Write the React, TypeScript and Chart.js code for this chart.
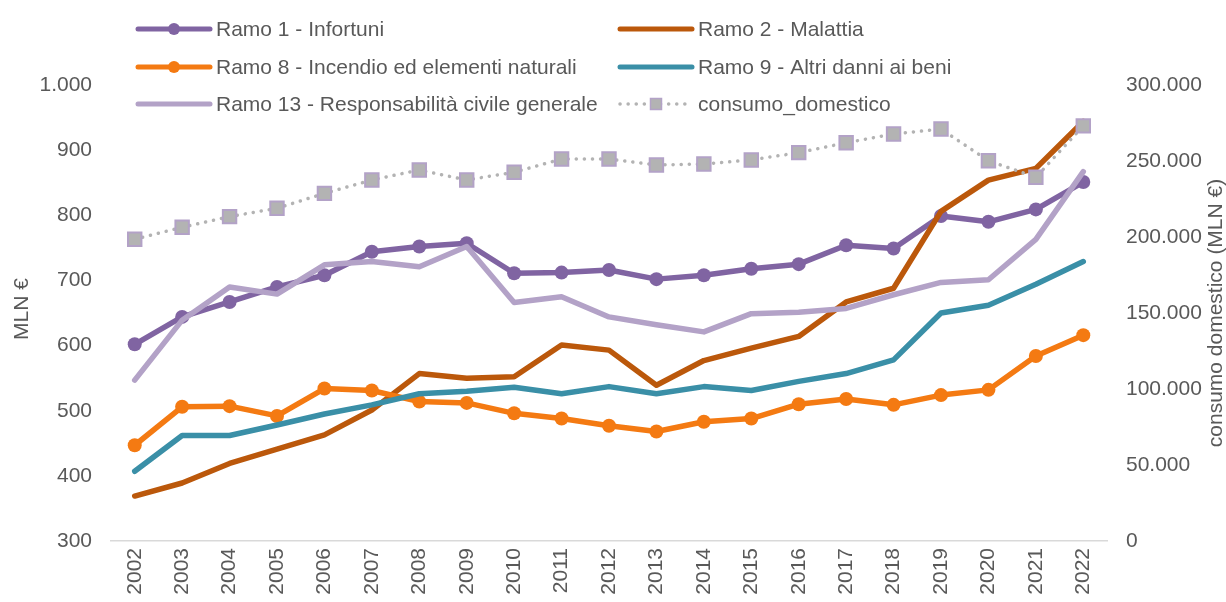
import React, { useEffect, useRef } from "react";
import { Chart, registerables } from "chart.js";

Chart.register(...registerables);

const years = ["2002","2003","2004","2005","2006","2007","2008","2009","2010","2011","2012","2013","2014","2015","2016","2017","2018","2019","2020","2021","2022"];
const ramo1 = [602, 644, 667, 690, 708, 744, 752, 757, 711, 712, 716, 702, 708, 718, 725, 754, 749, 799, 790, 809, 851];
const ramo2 = [369, 389, 419, 441, 463, 501, 557, 550, 552, 601, 593, 539, 577, 596, 614, 667, 688, 806, 854, 872, 944];
const ramo8 = [447, 506, 507, 492, 534, 531, 514, 512, 496, 488, 477, 468, 483, 488, 510, 518, 509, 524, 532, 584, 616];
const ramo9 = [407, 462, 462, 478, 495, 509, 526, 530, 536, 526, 537, 526, 537, 531, 545, 557, 578, 650, 662, 694, 729];
const ramo13 = [547, 639, 690, 679, 724, 729, 721, 752, 666, 675, 644, 632, 621, 649, 651, 657, 678, 697, 701, 763, 867];
const consumo = [198500, 206400, 213400, 218900, 228700, 237500, 244100, 237500, 242600, 251300, 251300, 247400, 248000, 250700, 255500, 262000, 267800, 271000, 250200, 239300, 273100];

const names = [
  "Ramo 1 - Infortuni",
  "Ramo 2 - Malattia",
  "Ramo 8 - Incendio ed elementi naturali",
  "Ramo 9 - Altri danni ai beni",
  "Ramo 13 - Responsabilità civile generale",
  "consumo_domestico",
];
const leftTitle = "MLN €";
const rightTitle = "consumo domestico (MLN €)";

const C1 = "#8064a2";
const C2 = "#bb580b";
const C8 = "#f47a12";
const C9 = "#3a8fa7";
const C13 = "#b3a2c7";
const CG = "#b3b3b3";
const TXT = "#595959";
const FONT = "'Liberation Sans', Arial, sans-serif";
const FS = 21;

const fmt = (v: number) => {
  const s = Math.round(v).toString();
  return s.replace(/\B(?=(\d{3})+(?!\d))/g, ".");
};

const overlay = {
  id: "overlay",
  afterDraw(chart: any) {
    const ctx = chart.ctx;
    ctx.save();
    ctx.font = `${FS}px ${FONT}`;
    ctx.fillStyle = TXT;
    ctx.textBaseline = "middle";
    // titles
    ctx.save();
    ctx.translate(22, 309);
    ctx.rotate(-Math.PI / 2);
    ctx.textAlign = "center";
    ctx.fillText(leftTitle, 0, 0);
    ctx.restore();
    ctx.save();
    ctx.translate(1216, 313);
    ctx.rotate(-Math.PI / 2);
    ctx.textAlign = "center";
    ctx.fillText(rightTitle, 0, 0);
    ctx.restore();

    // legend
    const items = [
      { name: names[0], color: C1, x: 138, y: 29, kind: "circle" },
      { name: names[2], color: C8, x: 138, y: 67, kind: "circle" },
      { name: names[4], color: C13, x: 138, y: 104, kind: "line" },
      { name: names[1], color: C2, x: 620, y: 29, kind: "line" },
      { name: names[3], color: C9, x: 620, y: 67, kind: "line" },
      { name: names[5], color: CG, x: 620, y: 104, kind: "dotted" },
    ];
    for (const it of items) {
      const x0 = it.x, x1 = it.x + 72, cx = (x0 + x1) / 2;
      ctx.save();
      ctx.lineCap = "round";
      if (it.kind === "dotted") {
        ctx.strokeStyle = CG;
        ctx.lineWidth = 3.5;
        ctx.setLineDash([0.1, 8]);
      } else {
        ctx.strokeStyle = it.color;
        ctx.lineWidth = 5;
      }
      ctx.beginPath();
      ctx.moveTo(x0, it.y);
      ctx.lineTo(x1, it.y);
      ctx.stroke();
      ctx.setLineDash([]);
      if (it.kind === "circle") {
        ctx.fillStyle = it.color;
        ctx.beginPath();
        ctx.arc(cx, it.y, 6, 0, Math.PI * 2);
        ctx.fill();
      } else if (it.kind === "dotted") {
        ctx.fillStyle = CG;
        ctx.strokeStyle = C13;
        ctx.lineWidth = 1.5;
        ctx.fillRect(cx - 5.5, it.y - 5.5, 11, 11);
        ctx.strokeRect(cx - 5.5, it.y - 5.5, 11, 11);
      }
      ctx.restore();
      ctx.fillStyle = TXT;
      ctx.textAlign = "left";
      ctx.fillText(it.name, x1 + 6, it.y + 1);
    }
    ctx.restore();
  },
};

export default function App() {
  const ref = useRef<HTMLCanvasElement | null>(null);
  useEffect(() => {
    document.body.style.margin = "0";
    if (!ref.current) return;
    const solid = (label: string, data: number[], color: string, points: boolean, order: number) => ({
      label,
      data,
      yAxisID: "y",
      borderColor: color,
      backgroundColor: color,
      borderWidth: 5.5,
      borderCapStyle: "round",
      borderJoinStyle: "round",
      pointRadius: points ? 7 : 0,
      pointHoverRadius: points ? 7 : 0,
      pointBackgroundColor: color,
      pointBorderWidth: 0,
      tension: 0,
      order,
    });
    const chart = new Chart(ref.current, {
      type: "line",
      data: {
        labels: years,
        datasets: [
          solid(names[0], ramo1, C1, true, 5),
          solid(names[1], ramo2, C2, false, 4),
          solid(names[2], ramo8, C8, true, 3),
          solid(names[3], ramo9, C9, false, 2),
          solid(names[4], ramo13, C13, false, 1),
          {
            label: names[5],
            data: consumo,
            yAxisID: "y2",
            borderColor: CG,
            backgroundColor: CG,
            borderWidth: 3.5,
            borderDash: [0.1, 8],
            borderCapStyle: "round",
            pointStyle: "rect",
            pointRadius: 9.5,
            pointHoverRadius: 9.5,
            pointBackgroundColor: CG,
            pointBorderColor: C13,
            pointBorderWidth: 2,
            tension: 0,
            order: 0,
          } as any,
        ] as any,
      },
      options: {
        animation: false,
        responsive: false,
        maintainAspectRatio: false,
        layout: { padding: { top: 85, left: 0, right: 0, bottom: 0 } },
        plugins: {
          legend: { display: false },
          tooltip: { enabled: false },
          title: { display: false },
        },
        scales: {
          x: {
            offset: true,
            grid: { display: false, drawTicks: false },
            border: { display: true, color: "#d9d9d9", width: 1.5 },
            ticks: {
              minRotation: 90,
              maxRotation: 90,
              padding: 7,
              color: TXT,
              font: { family: FONT, size: FS },
              autoSkip: false,
            },
            afterFit: (s: any) => { s.height = 61; },
          },
          y: {
            position: "left",
            min: 300,
            max: 1000,
            grid: { display: false, drawTicks: false },
            border: { display: false },
            ticks: {
              stepSize: 100,
              padding: 19,
              color: TXT,
              font: { family: FONT, size: FS },
              callback: (v: any) => fmt(Number(v)),
            },
            afterFit: (s: any) => { s.width = 111; },
          },
          y2: {
            position: "right",
            min: 0,
            max: 300000,
            grid: { display: false, drawTicks: false },
            border: { display: false },
            ticks: {
              stepSize: 50000,
              padding: 19,
              color: TXT,
              font: { family: FONT, size: FS },
              callback: (v: any) => fmt(Number(v)),
            },
            afterFit: (s: any) => { s.width = 119; },
          },
        },
      } as any,
      plugins: [overlay],
    });
    return () => chart.destroy();
  }, []);
  return (
    <div style={{ position: "absolute", left: 0, top: 0, width: 1226, height: 602 }}>
      <canvas ref={ref} width={1226} height={602} style={{ width: 1226, height: 602, display: "block" }} />
    </div>
  );
}
